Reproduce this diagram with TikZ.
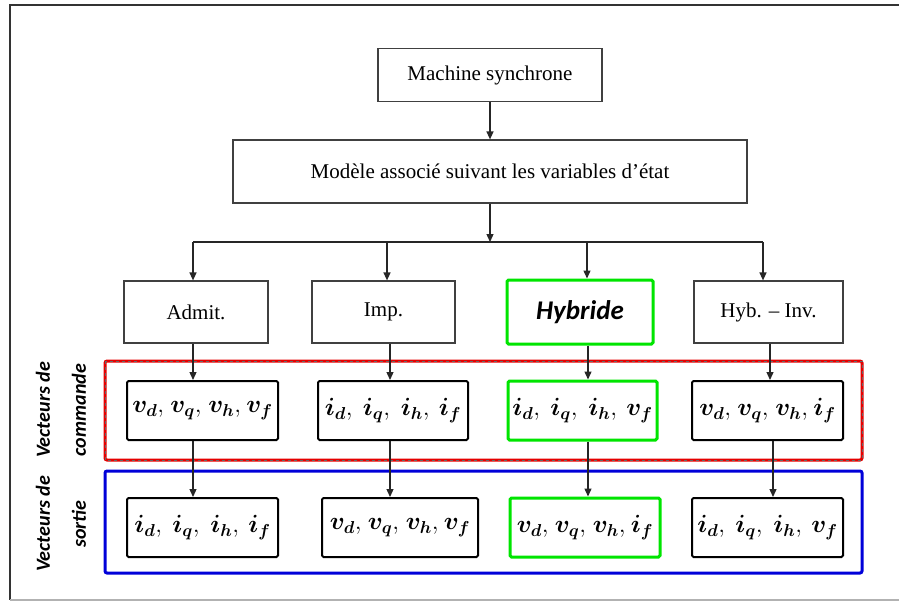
\documentclass[tikz,border=0pt]{standalone}
\usepackage{bm}
\usepackage{fontspec}
\setmainfont{Liberation Serif}
\newfontfamily\labfont{Carlito}
\usetikzlibrary{arrows.meta}
\newcommand{\vi}[2]{\makebox[38pt][l]{$\bm{#1}_{\bm{#2}},$}}
\newcommand{\vl}[2]{$\bm{#1}_{\bm{#2}}$}
\begin{document}
\begin{tikzpicture}[x=1pt,y=-1pt,
  box/.style={draw=black!75, line width=1.2pt, fill=white, inner sep=0pt, font=\fontsize{21}{24}\selectfont},
  vecbox/.style={draw=black, line width=2pt, rounded corners=1.5pt, fill=white, inner sep=0pt, minimum height=59pt, font=\fontsize{23}{28}\selectfont},
  gbox/.style={draw=green!90!black, line width=3pt, rounded corners=1.5pt},
  arr/.style={line width=1.3pt, draw=black!85, -{Triangle[length=8pt,width=7pt]}},
  vlab/.style={rotate=90, align=center, font=\labfont\bfseries\itshape\fontsize{20}{36}\selectfont}
]
\useasboundingbox (0,0) rectangle (899,603);
% outer frame
\draw[line width=2pt, black!80] (899,5) -- (10,5) -- (10,600);
\draw[line width=1.5pt, black!30] (10,600) -- (899,600);

% group boxes
\draw[red!90!black, line width=3pt, rounded corners=2pt] (105,361) rectangle (862,460);
\draw[black!60, line width=1pt, dash pattern=on 3pt off 3pt] (105,361) rectangle (862,460);
\draw[blue!85!black, line width=3pt, rounded corners=2pt] (105,471) rectangle (862,573);

% top boxes
\node[box, minimum width=224pt, minimum height=53pt] (ms) at (490,75) {Machine synchrone};
\node[box, minimum width=514pt, minimum height=63pt] (mod) at (490,171.5) {Mod\`ele associ\'e suivant les variables d'\'etat};

% second row
\node[box, minimum width=144pt, minimum height=62pt] (adm) at (196,312) {Admit.};
\node[box, minimum width=143pt, minimum height=62pt] (imp) at (383.5,312) {Imp.};
\node[box, gbox, minimum width=146pt, minimum height=64pt, font=\labfont\bfseries\itshape\fontsize{27}{30}\selectfont] (hyb) at (580,312) {Hybride};
\node[box, minimum width=149pt, minimum height=62pt] (hinv) at (768.5,312) {Hyb. -- Inv.};

% command vectors
\node[vecbox, minimum width=151pt] (c1) at (202.5,410.5) {\vi{v}{d}\vi{v}{q}\vi{v}{h}\vl{v}{f}};
\node[vecbox, minimum width=150pt] (c2) at (393,410.5) {\vi{i}{d}\vi{i}{q}\vi{i}{h}\vl{i}{f}};
\node[vecbox, gbox, minimum width=149pt] (c3) at (582.5,410.5) {\vi{i}{d}\vi{i}{q}\vi{i}{h}\vl{v}{f}};
\node[vecbox, minimum width=151pt] (c4) at (767.5,410.5) {\vi{v}{d}\vi{v}{q}\vi{v}{h}\vl{i}{f}};

% output vectors
\node[vecbox, minimum width=151pt] (o1) at (202.5,527.5) {\vi{i}{d}\vi{i}{q}\vi{i}{h}\vl{i}{f}};
\node[vecbox, minimum width=156pt] (o2) at (400,527.5) {\vi{v}{d}\vi{v}{q}\vi{v}{h}\vl{v}{f}};
\node[vecbox, gbox, minimum width=150pt] (o3) at (585,527.5) {\vi{v}{d}\vi{v}{q}\vi{v}{h}\vl{i}{f}};
\node[vecbox, minimum width=151pt] (o4) at (767.5,527.5) {\vi{i}{d}\vi{i}{q}\vi{i}{h}\vl{v}{f}};

% side labels
\node[vlab] (lc) at (61,410) {Vecteurs de\\commande};
\node[vlab] (ls) at (61,524) {Vecteurs de\\sortie};

% connectors
\coordinate (j0) at (490,242);
\coordinate (j1) at (193,242);
\coordinate (j2) at (387,242);
\coordinate (j3) at (587,242);
\coordinate (j4) at (763,242);
\coordinate (k1) at (193,0);
\coordinate (k2) at (390,0);
\coordinate (k3) at (588,0);
\coordinate (k4) at (770,0);
\coordinate (k5) at (773,0);

\draw[arr] (ms) -- (mod);
\draw[arr] (mod) -- (j0);
\draw[line width=1.3pt, black!85] (j1) -- (j4);
\draw[arr] (j1) -- (adm.north -| j1);
\draw[arr] (j2) -- (imp.north -| j2);
\draw[arr] (j3) -- (hyb.north -| j3);
\draw[arr] (j4) -- (hinv.north -| j4);

\draw[arr] (adm.south -| k1) -- (c1.north -| k1);
\draw[arr] (imp.south -| k2) -- (c2.north -| k2);
\draw[arr] (hyb.south -| k3) -- (c3.north -| k3);
\draw[arr] (hinv.south -| k4) -- (c4.north -| k4);

\draw[arr] (c1.south -| k1) -- (o1.north -| k1);
\draw[arr] (c2.south -| k2) -- (o2.north -| k2);
\draw[arr] (c3.south -| k3) -- (o3.north -| k3);
\draw[arr] (c4.south -| k5) -- (o4.north -| k5);
\end{tikzpicture}
\end{document}
